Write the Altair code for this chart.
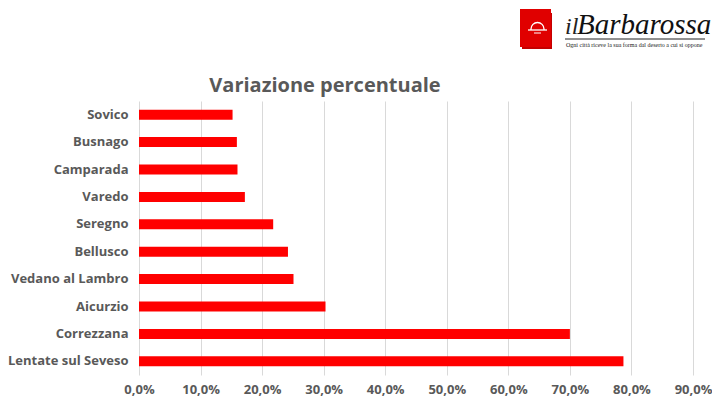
import altair as alt
import pandas as pd

comuni = ["Sovico", "Busnago", "Camparada", "Varedo", "Seregno", "Bellusco",
          "Vedano al Lambro", "Aicurzio", "Correzzana", "Lentate sul Seveso"]
variazione = [0.152, 0.159, 0.160, 0.172, 0.218, 0.242, 0.251, 0.303, 0.700, 0.787]
tick_values = [0.0, 0.1, 0.2, 0.3, 0.4, 0.5, 0.6, 0.7, 0.8, 0.9]
titolo = "Variazione percentuale"
logo_nome = "Barbarossa"
logo_il = "il"
logo_motto = "Ogni città riceve la sua forma dal deserto a cui si oppone"

df = pd.DataFrame({"comune": comuni, "variazione": variazione})

GRAY = "#595959"
FONT = "Open Sans"
SERIF = "Liberation Serif"

bars = alt.Chart(df).mark_bar(size=10, color="#FF0000").encode(
    y=alt.Y("comune:N", sort=comuni,
            scale=alt.Scale(paddingInner=0, paddingOuter=0),
            axis=alt.Axis(title=None, ticks=False, domain=False, labelFont=FONT,
                          labelFontWeight="bold", labelFontSize=13, labelColor=GRAY,
                          labelPadding=11, minExtent=131, maxExtent=131, labelLimit=200)),
    x=alt.X("variazione:Q", scale=alt.Scale(domain=[0, 0.9], nice=False),
            axis=alt.Axis(title=None, values=tick_values, ticks=False, domain=False,
                          grid=True, gridColor="#d9d9d9", gridWidth=1,
                          labelFont=FONT, labelFontWeight="bold", labelFontSize=13,
                          labelColor=GRAY, labelPadding=8, labelFlush=False,
                          labelOverlap=False,
                          labelExpr="replace(format(datum.value, '.1%'), '.', ',')")),
)

title_layer = alt.Chart(pd.DataFrame({"t": [titolo]})).mark_text(
    font=FONT, fontWeight="bold", fontSize=20, color=GRAY, align="center", baseline="middle"
).encode(text="t:N", x=alt.value(186), y=alt.value(-15))

one = pd.DataFrame({"a": [1]})
logo_shadow = alt.Chart(one).mark_rect(color="#c40000").encode(
    x=alt.value(383), x2=alt.value(413), y=alt.value(-88), y2=alt.value(-52))
logo_rect = alt.Chart(one).mark_rect(color="#e00000").encode(
    x=alt.value(381), x2=alt.value(412), y=alt.value(-92), y2=alt.value(-54))
logo_arc = alt.Chart(one).mark_arc(
    stroke="white", strokeWidth=1.3, fill=None, radius=6.5, radius2=6.5,
    theta=4.712, theta2=7.854
).encode(x=alt.value(398.5), y=alt.value(-72))
logo_sideL = alt.Chart(one).mark_rule(color="white", strokeWidth=1.3).encode(
    x=alt.value(392), y=alt.value(-72), y2=alt.value(-71))
logo_sideR = alt.Chart(one).mark_rule(color="white", strokeWidth=1.3).encode(
    x=alt.value(405), y=alt.value(-72), y2=alt.value(-71))
logo_base = alt.Chart(one).mark_rule(color="white", strokeWidth=1.3).encode(
    x=alt.value(389), x2=alt.value(408), y=alt.value(-71))
logo_base2 = alt.Chart(one).mark_rule(color="white", strokeWidth=1).encode(
    x=alt.value(395), x2=alt.value(402), y=alt.value(-68))

logo_il_layer = alt.Chart(pd.DataFrame({"t": [logo_il]})).mark_text(
    font=SERIF, fontStyle="italic", fontSize=24, color="#222222", align="left",
    baseline="alphabetic"
).encode(text="t:N", x=alt.value(426), y=alt.value(-67))
logo_name_layer = alt.Chart(pd.DataFrame({"t": [logo_nome]})).mark_text(
    font=SERIF, fontStyle="italic", fontSize=29, color="#111111", align="left",
    baseline="alphabetic"
).encode(text="t:N", x=alt.value(438), y=alt.value(-67))
logo_line = alt.Chart(one).mark_rule(color="#222222", strokeWidth=1).encode(
    x=alt.value(426), x2=alt.value(566), y=alt.value(-62))
logo_motto_layer = alt.Chart(pd.DataFrame({"t": [logo_motto]})).mark_text(
    font=SERIF, fontSize=6, color="#222222", align="left", baseline="middle"
).encode(text="t:N", x=alt.value(427), y=alt.value(-56))

chart = alt.layer(
    bars, title_layer, logo_shadow, logo_rect, logo_arc, logo_sideL, logo_sideR,
    logo_base, logo_base2, logo_il_layer, logo_name_layer, logo_line, logo_motto_layer
).properties(
    width=554, height=274,
    autosize=alt.AutoSizeParams(type="none"),
    padding={"left": 131, "top": 93, "right": 19, "bottom": 25},
).configure_view(stroke=None)

chart.save("out.html", embed_options={"renderer": "svg", "actions": False})
